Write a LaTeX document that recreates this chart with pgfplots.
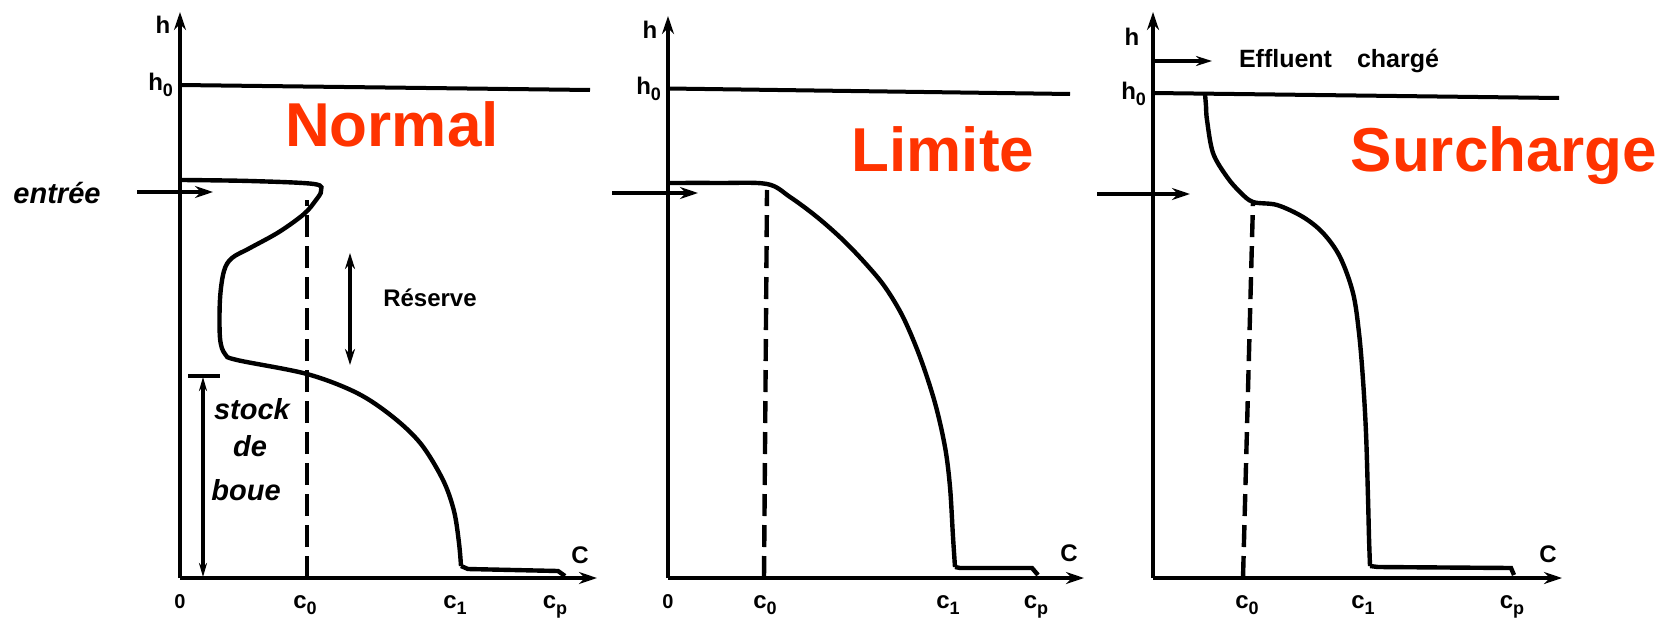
\documentclass[border=0pt]{standalone}
\usepackage{fontspec}
\setmainfont{Liberation Sans}
\usepackage{pgfplots}
\pgfplotsset{compat=1.18}
\usetikzlibrary{arrows.meta}
\definecolor{redlab}{RGB}{255,51,0}
\newcommand{\sub}[1]{\raisebox{-3pt}{\fontsize{9}{9}\selectfont #1}}
\pgfplotsset{
  panel/.style={
    scale only axis, clip=false,
    xmin=0, ymin=0,
    axis x line=bottom, axis y line=left,
    axis line style={line width=2.4pt, -{Stealth[length=9pt,width=6pt]}},
    major tick length=0pt,
    xticklabel style={anchor=base, yshift=-15pt, font=\fontsize{12}{12}\selectfont\bfseries},
    yticklabel style={font=\fontsize{12}{12}\selectfont\bfseries},
    anchor=south west,
  },
}
\tikzset{
  myline/.style={line width=2pt, black, mark=none},
  mycurve/.style={line width=2.2pt, black, mark=none, smooth, tension=0.55},
  mydash/.style={line width=2.2pt, black, mark=none, dash pattern=on 11pt off 4.5pt},
  bigred/.style={anchor=base, text=redlab, font=\fontsize{31}{31}\selectfont\bfseries},
  lab/.style={font=\fontsize{12}{12}\selectfont\bfseries},
  ital/.style={font=\fontsize{14.5}{14.5}\selectfont\bfseries\itshape},
}
\begin{document}
\begin{tikzpicture}
\path[use as bounding box] (0,0) rectangle (834pt,308.5pt);
% ---------- Normal ----------
\begin{axis}[panel, at={(90pt,19.5pt)}, xmax=417, ymax=566, width=208.5pt, height=283pt,
  xtick={0,125,275,375}, xticklabels={{\fontsize{10}{10}\selectfont 0},c\sub{0},c\sub{1},c\sub{p}},
  ytick={493}, yticklabels={h\sub{0}}]
\addplot[myline] coordinates {(0,493) (410,488)};
\addplot[mycurve] coordinates {(2,398) (70,397) (134,394) (141,387) (136,378) (124,364) (99,346) (70,330) (52,320) (44,307) (40,279) (40,240) (45,224) (57,218) (127,204) (177,185) (213,161) (241,134) (263,98) (274,67) (279,35) (281,12)};
\addplot[myline, line width=2.2pt] coordinates {(281,12) (288,9) (378,7) (385,2)};
\addplot[mydash] coordinates {(127,0) (127,378)};
\addplot[myline, -{Stealth[length=9pt,width=6pt]}] coordinates {(-43,386) (33,386)};
\addplot[myline, line width=2.4pt, {Stealth[length=8pt,width=5pt]}-{Stealth[length=8pt,width=5pt]}] coordinates {(170,213) (170,325)};
\addplot[myline, line width=1.6pt, {Stealth[length=7pt,width=4pt]}-{Stealth[length=7pt,width=4pt]}] coordinates {(23,1) (23,201)};
\addplot[myline, line width=1.6pt] coordinates {(8,202) (40,202)};
\node[lab] at (axis cs:-17,553) {h};
\node[lab] at (axis cs:400,23) {C};
\node[bigred] at (axis cs:212,432) {Normal};
\node[ital] at (axis cs:-123,385) {entrée};
\node[lab] at (axis cs:250,280) {Réserve};
\node[ital] at (axis cs:72,169) {stock};
\node[ital] at (axis cs:70,132) {de};
\node[ital] at (axis cs:66,88) {boue};
\end{axis}
% ---------- Limite ----------
\begin{axis}[panel, at={(334pt,19.5pt)}, xmax=416, ymax=562, width=208pt, height=281pt,
  xtick={0,97,280,368}, xticklabels={{\fontsize{10}{10}\selectfont 0},c\sub{0},c\sub{1},c\sub{p}},
  ytick={489}, yticklabels={h\sub{0}}]
\addplot[myline] coordinates {(0,489.5) (402,484)};
\addplot[mycurve] coordinates {(2,395) (50,395) (99,394) (122,381) (149,361) (175,338) (198,314) (217,291) (235,261) (252,221) (267,175) (277,131) (282,91) (285,41) (287,11)};
\addplot[myline, line width=2.2pt] coordinates {(287,11) (292,10) (364,10) (370,3)};
\addplot[mydash] coordinates {(96,0) (99,388)};
\addplot[myline, -{Stealth[length=9pt,width=6pt]}] coordinates {(-56,385) (30,385)};
\node[lab] at (axis cs:-18,548) {h};
\node[lab] at (axis cs:401,25) {C};
\node[bigred] at (axis cs:275,407) {Limite};
\end{axis}
% ---------- Surcharge ----------
\begin{axis}[panel, at={(576.5pt,19.5pt)}, xmax=409, ymax=566, width=204.5pt, height=283pt,
  xtick={94,210,359}, xticklabels={c\sub{0},c\sub{1},c\sub{p}},
  ytick={484}, yticklabels={h\sub{0}}]
\addplot[myline] coordinates {(0,485) (406,480)};
\addplot[mycurve] coordinates {(52,484) (53,472) (54,458) (60,425) (74,401) (87,386) (100,376) (124,373) (150,361) (170,345) (187,321) (200,285) (206,245) (210,198) (213,145) (215,80) (216,40) (217,12)};
\addplot[myline, line width=2.2pt] coordinates {(217,12) (225,11) (358,10) (361,3)};
\addplot[mydash] coordinates {(90,0) (100,376)};
\addplot[myline, -{Stealth[length=9pt,width=6pt]}] coordinates {(-56,384) (37,384)};
\addplot[myline, -{Stealth[length=8pt,width=5pt]}] coordinates {(2,517) (59,517)};
\node[lab] at (axis cs:-21,541) {h};
\node[lab] at (axis cs:395,24) {C};
\node[font=\fontsize{12.5}{12.5}\selectfont\bfseries] at (axis cs:186,517) {Effluent\hspace{1em}chargé};
\node[bigred] at (axis cs:351,407) {Surcharge};
\end{axis}
\end{tikzpicture}
\end{document}
